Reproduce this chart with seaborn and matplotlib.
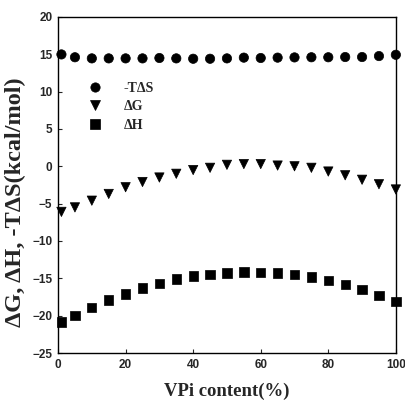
import numpy as np
import pandas as pd
import seaborn as sns
import matplotlib
matplotlib.use("Agg")
import matplotlib.pyplot as plt

vpi = [1, 5, 10, 15, 20, 25, 30, 35, 40, 45, 50, 55, 60, 65, 70, 75, 80, 85, 90, 95, 100]
neg_tds = [14.98, 14.6, 14.45, 14.45, 14.45, 14.45, 14.5, 14.45, 14.4, 14.4, 14.45, 14.55, 14.5,
           14.55, 14.58, 14.6, 14.6, 14.63, 14.63, 14.76, 14.93]
dG = [-6.1, -5.5, -4.6, -3.7, -2.8, -2.1, -1.5, -1.0, -0.5, -0.2, 0.2, 0.3, 0.3, 0.1, 0.0,
      -0.2, -0.7, -1.2, -1.8, -2.4, -3.1]
dH = [-20.85, -19.96, -18.9, -17.9, -17.1, -16.3, -15.7, -15.1, -14.7, -14.5, -14.3, -14.15,
      -14.2, -14.3, -14.5, -14.8, -15.3, -15.8, -16.5, -17.3, -18.1]
series_labels = ["-T\u0394S", "\u0394G", "\u0394H"]
x_ticks = [0, 20, 40, 60, 80, 100]
y_ticks = [-25, -20, -15, -10, -5, 0, 5, 10, 15, 20]

sns.set_theme(style="ticks")
plt.rcParams["font.family"] = ["DejaVu Sans"]

df = pd.DataFrame({
    "x": vpi * 3,
    "y": neg_tds + dG + dH,
    "s": [series_labels[0]] * len(vpi) + [series_labels[1]] * len(vpi) + [series_labels[2]] * len(vpi),
})

fig = plt.figure(figsize=(4.06, 4.03), dpi=100)
ax = fig.add_axes([0.143, 0.124, 0.832, 0.834])

sns.scatterplot(data=df, x="x", y="y", style="s", hue="s",
                markers={series_labels[0]: "o", series_labels[1]: "v", series_labels[2]: "s"},
                palette={l: "black" for l in series_labels},
                s=45, edgecolor="black", linewidth=0.5, ax=ax, clip_on=False, zorder=3)

ax.set_xlim(0, 100)
ax.set_ylim(-25, 20)
ax.set_xticks(x_ticks)
ax.set_yticks(y_ticks)
ax.tick_params(direction="in", length=3, width=0.8, labelsize=8.5, pad=4)
for lab in ax.get_xticklabels() + ax.get_yticklabels():
    lab.set_fontweight("bold")
    lab.set_family("Liberation Sans")
for sp in ax.spines.values():
    sp.set_visible(True)
    sp.set_linewidth(1.0)
    sp.set_color("black")

ax.set_xlabel("VPi content(%)", fontsize=13.5, fontweight="bold", family="Liberation Serif", labelpad=9)
ax.set_ylabel("\u0394G, \u0394H, -T\u0394S(kcal/mol)", fontsize=17.5, fontweight="bold",
              family="Liberation Serif")
ax.yaxis.set_label_coords(-0.095, 0.45)

handles, labels = ax.get_legend_handles_labels()
leg = ax.legend(handles, labels, loc="upper left", bbox_to_anchor=(0.03, 0.845), frameon=False,
                prop={"family": "Liberation Serif", "weight": "bold", "size": 10},
                handletextpad=1.1, labelspacing=0.4, markerscale=1.0)

fig.savefig("out.png", dpi=100)
